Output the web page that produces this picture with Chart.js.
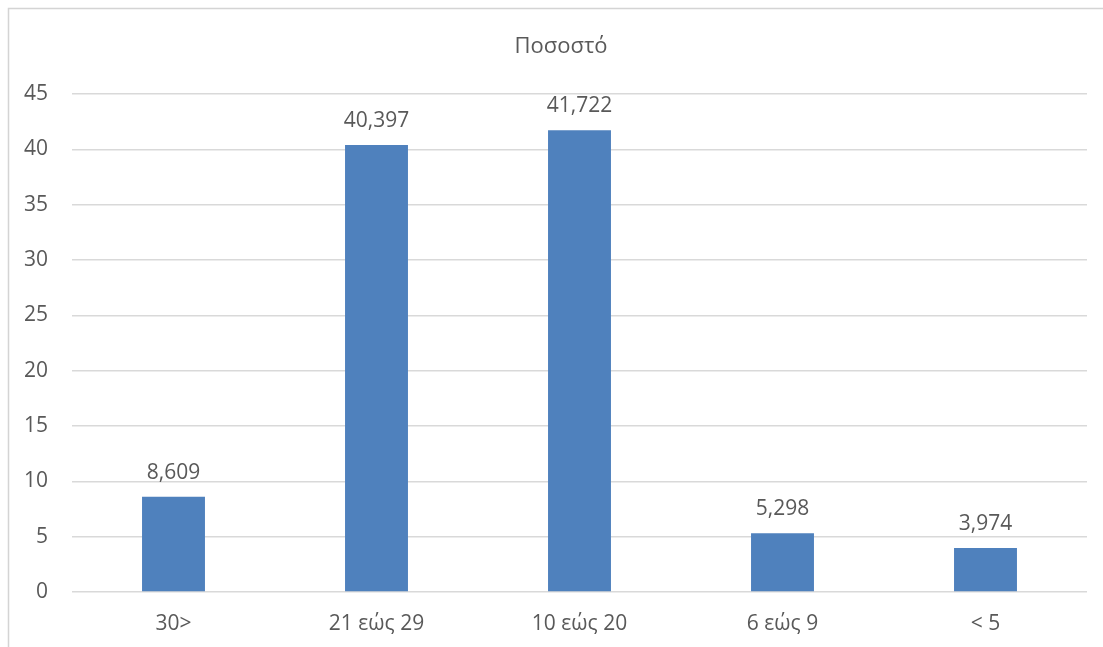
<!DOCTYPE html>
<html>
<head>
<meta charset="utf-8">
<script src="https://cdn.jsdelivr.net/npm/chart.js@4/dist/chart.umd.min.js"></script>
<style>
  html, body { margin: 0; padding: 0; background: #ffffff; }
  #wrap { width: 1103px; height: 647px; }
</style>
</head>
<body>
<div id="wrap"><canvas id="c" width="1103" height="647"></canvas></div>
<script>
const categories = ["30>", "21 εώς 29", "10 εώς 20", "6 εώς 9", "< 5"];
const percentages = [8.609, 40.397, 41.722, 5.298, 3.974];
const yTicks = [0, 5, 10, 15, 20, 25, 30, 35, 40, 45];
const chartTitle = "Ποσοστό";

const FONT = "'Open Sans', 'Noto Sans', sans-serif";
const TEXT = "#595959";
const GRID = "#d9d9d9";

// Frame of the chart area plus the centred title
const framePlugin = {
  id: "frame",
  beforeDraw(chart) {
    const ctx = chart.ctx;
    ctx.save();
    ctx.fillStyle = "#ffffff";
    ctx.fillRect(0, 0, chart.width, chart.height);
    ctx.strokeStyle = "#d4d4d4";
    ctx.lineWidth = 1.5;
    ctx.strokeRect(8.5, 8.5, 1110, 660);
    ctx.fillStyle = TEXT;
    ctx.font = "22px " + FONT;
    ctx.textAlign = "center";
    ctx.textBaseline = "middle";
    ctx.fillText(chartTitle, 561, 47);
    ctx.restore();
  }
};

// Value labels above each bar, decimal comma
const valueLabels = {
  id: "valueLabels",
  afterDatasetsDraw(chart) {
    const ctx = chart.ctx;
    const meta = chart.getDatasetMeta(0);
    ctx.save();
    ctx.fillStyle = TEXT;
    ctx.font = "21px " + FONT;
    ctx.textAlign = "center";
    ctx.textBaseline = "alphabetic";
    meta.data.forEach((bar, i) => {
      const txt = percentages[i].toFixed(3).replace(".", ",");
      ctx.fillText(txt, bar.x, bar.y - 18);
    });
    ctx.restore();
  }
};

new Chart(document.getElementById("c"), {
  type: "bar",
  data: {
    labels: categories,
    datasets: [{
      label: chartTitle,
      data: percentages,
      backgroundColor: "#4f81bd",
      borderWidth: 0,
      categoryPercentage: 1,
      barPercentage: 0.31
    }]
  },
  options: {
    responsive: false,
    animation: false,
    layout: { padding: { top: 94, right: 16, left: 0, bottom: 0 } },
    plugins: {
      legend: { display: false },
      title: { display: false },
      tooltip: { enabled: false }
    },
    scales: {
      x: {
        grid: { display: false, drawTicks: false },
        border: { display: false },
        ticks: { color: TEXT, font: { family: FONT, size: 21 }, padding: 19 },
        afterFit(scale) { scale.height = 647 - 592; }
      },
      y: {
        min: 0,
        max: 45,
        afterBuildTicks(scale) { scale.ticks = yTicks.map(v => ({ value: v })); },
        grid: { color: GRID, lineWidth: 1.5, drawTicks: false },
        border: { display: false },
        ticks: { color: TEXT, font: { family: FONT, size: 21 }, padding: 24 },
        afterFit(scale) { scale.width = 72; }
      }
    }
  },
  plugins: [framePlugin, valueLabels]
});
</script>
</body>
</html>
